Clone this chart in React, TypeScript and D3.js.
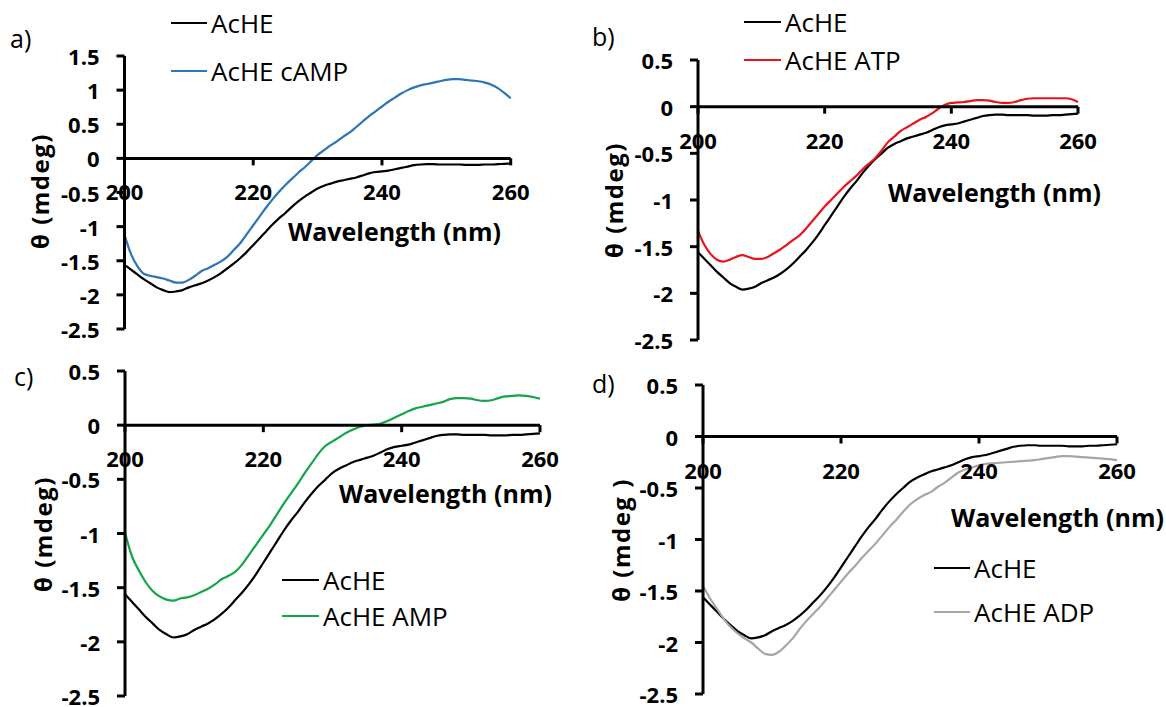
import React from 'react';
import * as d3 from 'd3';

// wavelength grid (nm), one point per nm
const wavelengths = d3.range(200, 261);

const acheValues = [
  -1.56, -1.63, -1.70, -1.77, -1.83, -1.89, -1.93, -1.96, -1.95, -1.93,
  -1.89, -1.86, -1.83, -1.79, -1.74, -1.68, -1.61, -1.54, -1.46, -1.37,
  -1.27, -1.17, -1.07, -0.97, -0.88, -0.80, -0.71, -0.63, -0.56, -0.50,
  -0.44, -0.40, -0.37, -0.34, -0.32, -0.30, -0.28, -0.25, -0.22, -0.20,
  -0.19, -0.18, -0.16, -0.14, -0.12, -0.10, -0.09, -0.085, -0.085, -0.09,
  -0.09, -0.09, -0.09, -0.095, -0.095, -0.095, -0.09, -0.09, -0.085, -0.08,
  -0.075,
];

const campValues = [
  -1.12, -1.40, -1.58, -1.69, -1.72, -1.74, -1.76, -1.79, -1.82, -1.82,
  -1.78, -1.72, -1.65, -1.61, -1.56, -1.51, -1.44, -1.34, -1.24, -1.11,
  -0.98, -0.85, -0.72, -0.60, -0.49, -0.39, -0.30, -0.21, -0.13, -0.04,
  0.05, 0.12, 0.19, 0.25, 0.32, 0.38, 0.46, 0.54, 0.62, 0.69,
  0.76, 0.83, 0.89, 0.95, 1.00, 1.04, 1.07, 1.09, 1.11, 1.13,
  1.15, 1.16, 1.16, 1.15, 1.14, 1.13, 1.11, 1.08, 1.03, 0.96,
  0.88,
];

const atpValues = [
  -1.33, -1.48, -1.58, -1.64, -1.66, -1.64, -1.61, -1.59, -1.61, -1.63,
  -1.63, -1.61, -1.57, -1.53, -1.48, -1.43, -1.38, -1.31, -1.23, -1.15,
  -1.07, -1.00, -0.93, -0.86, -0.80, -0.74, -0.67, -0.61, -0.55, -0.47,
  -0.38, -0.32, -0.26, -0.22, -0.18, -0.14, -0.11, -0.07, -0.02, 0.02,
  0.04, 0.045, 0.05, 0.06, 0.07, 0.07, 0.065, 0.05, 0.04, 0.04,
  0.05, 0.07, 0.085, 0.09, 0.09, 0.09, 0.09, 0.09, 0.09, 0.08,
  0.05,
];

const ampValues = [
  -0.99, -1.21, -1.34, -1.45, -1.53, -1.58, -1.61, -1.62, -1.60, -1.59,
  -1.57, -1.54, -1.51, -1.47, -1.42, -1.39, -1.35, -1.28, -1.19, -1.10,
  -1.01, -0.92, -0.82, -0.72, -0.63, -0.54, -0.44, -0.35, -0.26, -0.19,
  -0.15, -0.11, -0.07, -0.04, -0.015, 0.0, 0.005, 0.015, 0.04, 0.07,
  0.10, 0.13, 0.155, 0.17, 0.185, 0.20, 0.215, 0.24, 0.25, 0.25,
  0.245, 0.23, 0.225, 0.23, 0.25, 0.265, 0.27, 0.275, 0.27, 0.26,
  0.245,
];

const adpValues = [
  -1.45, -1.57, -1.67, -1.77, -1.85, -1.91, -1.96, -2.00, -2.06, -2.11,
  -2.12, -2.09, -2.03, -1.96, -1.87, -1.79, -1.72, -1.65, -1.57, -1.49,
  -1.41, -1.33, -1.26, -1.18, -1.11, -1.04, -0.96, -0.88, -0.81, -0.73,
  -0.66, -0.61, -0.57, -0.54, -0.49, -0.45, -0.40, -0.35, -0.32, -0.30,
  -0.28, -0.265, -0.26, -0.255, -0.25, -0.245, -0.24, -0.235, -0.23, -0.22,
  -0.21, -0.20, -0.19, -0.19, -0.195, -0.20, -0.205, -0.21, -0.215, -0.22,
  -0.23,
];

const xTicks = [200, 220, 240, 260];
const yTicksA = [1.5, 1, 0.5, 0, -0.5, -1, -1.5, -2, -2.5];
const yTicksBCD = [0.5, 0, -0.5, -1, -1.5, -2, -2.5];

const FONT = "'Open Sans', 'DejaVu Sans', sans-serif";

type Series = { name: string; values: number[]; color: string };

type PanelProps = {
  letter: string;
  letterPos: [number, number];
  xPx: [number, number];
  yPx: [number, number]; // pixel of lowest tick, highest tick
  yTicks: number[];
  series: Series[];
  legendLine: [number, number];
  legendRows: number[];
  wlPos: [number, number];
  thetaPos: [number, number];
  thetaText: string;
};

function Panel(p: PanelProps) {
  const x = d3.scaleLinear().domain([200, 260]).range(p.xPx);
  const yMin = d3.min(p.yTicks) as number;
  const yMax = d3.max(p.yTicks) as number;
  const y = d3.scaleLinear().domain([yMin, yMax]).range(p.yPx);
  const line = d3.line<number>()
    .x((_, i) => x(wavelengths[i]))
    .y((d) => y(d))
    .curve(d3.curveMonotoneX);
  const x0 = x(200);
  const y0 = y(0);

  return (
    <g>
      <text x={p.letterPos[0]} y={p.letterPos[1]} fontSize={25} fontFamily={FONT} dominantBaseline="central">{p.letter}</text>

      {/* curves */}
      {p.series.map((s) => (
        <path key={s.name} d={line(s.values) || ''} fill="none" stroke={s.color} strokeWidth={2.2} />
      ))}

      {/* y axis */}
      <line x1={x0} x2={x0} y1={y(yMax)} y2={y(yMin)} stroke="#000" strokeWidth={3} />
      {p.yTicks.map((t) => (
        <g key={t}>
          <line x1={x0 - 8} x2={x0} y1={y(t)} y2={y(t)} stroke="#000" strokeWidth={3} />
          <text x={x0 - 25} y={y(t)} textAnchor="end" dominantBaseline="central" fontSize={22} fontWeight="bold" fontFamily={FONT}>{t}</text>
        </g>
      ))}

      {/* x axis at zero */}
      <line x1={x0} x2={x(260)} y1={y0} y2={y0} stroke="#000" strokeWidth={3} />
      {xTicks.map((t) => (
        <g key={t}>
          <line x1={x(t)} x2={x(t)} y1={y0} y2={y0 + 7} stroke="#000" strokeWidth={3} />
          <text x={x(t)} y={y0 + 33} textAnchor="middle" dominantBaseline="central" fontSize={22} fontWeight="bold" fontFamily={FONT}>{t}</text>
        </g>
      ))}

      <text x={p.wlPos[0]} y={p.wlPos[1]} dominantBaseline="central" fontSize={25} fontWeight="bold" fontFamily={FONT}>Wavelength (nm)</text>
      <text transform={`translate(${p.thetaPos[0]},${p.thetaPos[1]}) rotate(-90)`} textAnchor="middle" dominantBaseline="central" fontSize={24} letterSpacing={1.5} fontWeight="bold" fontFamily={FONT}>{p.thetaText}</text>

      {/* legend */}
      {p.series.map((s, i) => (
        <g key={s.name}>
          <line x1={p.legendLine[0]} x2={p.legendLine[1]} y1={p.legendRows[i]} y2={p.legendRows[i]} stroke={s.color} strokeWidth={2.2} />
          <text x={p.legendLine[1] + 4} y={p.legendRows[i]} dominantBaseline="central" fontSize={26} fontFamily={FONT}>{s.name}</text>
        </g>
      ))}
    </g>
  );
}

export default function App() {
  return (
    <svg width={1166} height={707} style={{ position: 'absolute', left: 0, top: 0, background: '#fff' }}>
      <Panel
        letter="a)" letterPos={[10, 38]}
        xPx={[124.5, 510.7]} yPx={[329, 56]} yTicks={yTicksA}
        series={[
          { name: 'AcHE', values: acheValues, color: '#000' },
          { name: 'AcHE cAMP', values: campValues, color: '#2e75b6' },
        ]}
        legendLine={[171, 207]} legendRows={[23, 71]}
        wlPos={[288, 231]} thetaPos={[39, 191]} thetaText="θ (mdeg)"
      />
      <Panel
        letter="b)" letterPos={[592, 36]}
        xPx={[698, 1078]} yPx={[340, 60]} yTicks={yTicksBCD}
        series={[
          { name: 'AcHE', values: acheValues, color: '#000' },
          { name: 'AcHE ATP', values: atpValues, color: '#e8141c' },
        ]}
        legendLine={[744, 781]} legendRows={[22, 60]}
        wlPos={[888, 192]} thetaPos={[613, 200]} thetaText="θ (mdeg)"
      />
      <Panel
        letter="c)" letterPos={[14, 376]}
        xPx={[125, 540]} yPx={[696, 371]} yTicks={yTicksBCD}
        series={[
          { name: 'AcHE', values: acheValues, color: '#000' },
          { name: 'AcHE AMP', values: ampValues, color: '#12a54a' },
        ]}
        legendLine={[282, 319]} legendRows={[580, 616]}
        wlPos={[339, 493]} thetaPos={[42, 534]} thetaText="θ (mdeg)"
      />
      <Panel
        letter="d)" letterPos={[592, 383]}
        xPx={[703, 1117]} yPx={[694, 385]} yTicks={yTicksBCD}
        series={[
          { name: 'AcHE', values: acheValues, color: '#000' },
          { name: 'AcHE ADP', values: adpValues, color: '#a6a6a6' },
        ]}
        legendLine={[934, 970]} legendRows={[568, 612]}
        wlPos={[951, 517]} thetaPos={[620, 540]} thetaText="θ (mdeg )"
      />
    </svg>
  );
}
